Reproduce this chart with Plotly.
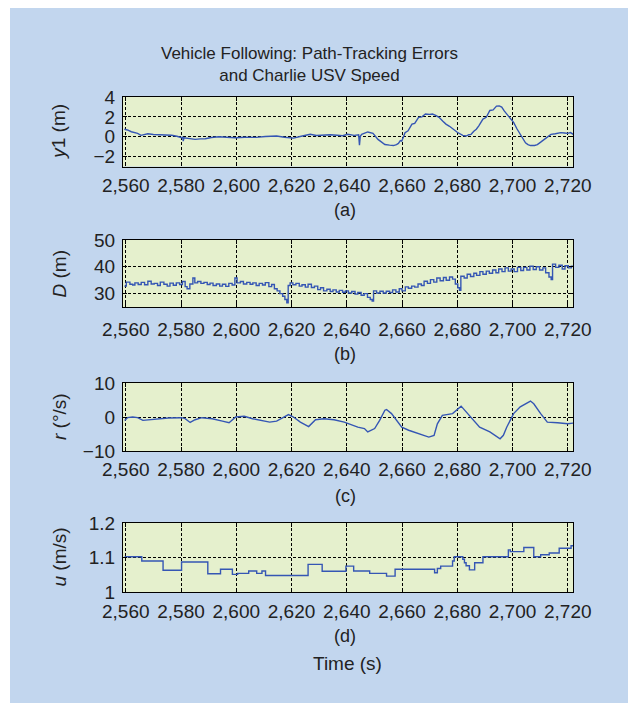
import plotly.graph_objects as go
from plotly.subplots import make_subplots

# ---------------- data ----------------
x_ticks = [2560, 2580, 2600, 2620, 2640, 2660, 2680, 2700, 2720]
x_tick_labels = ["2,560", "2,580", "2,600", "2,620", "2,640", "2,660", "2,680", "2,700", "2,720"]

# (a) cross-track error y1 (m)
t_y1 = [2559.5, 2560.6, 2562.0, 2563.2, 2564.3, 2565.5, 2566.8, 2568.0, 2570.0, 2572.9, 2575.0,
        2576.6, 2578.5, 2580.2, 2580.6, 2580.8, 2581.1, 2583.0, 2585.1, 2587.0, 2588.8, 2591.0,
        2593.7, 2596.5, 2599.8, 2603.0, 2607.2, 2610.5, 2614.6, 2617.5, 2620.7, 2623.5, 2626.8,
        2629.0, 2631.7, 2634.0, 2636.6, 2638.5, 2640.3, 2642.7, 2644.3, 2644.6, 2644.9, 2645.4,
        2647.6, 2649.5, 2651.3, 2652.5, 2653.8, 2655.5, 2656.9, 2658.0, 2658.7, 2659.4, 2659.9,
        2660.4, 2661.1, 2662.2, 2663.6, 2664.6, 2666.0, 2667.2, 2668.5, 2670.0, 2671.0, 2672.2,
        2673.4, 2674.8, 2675.9, 2677.2, 2678.3, 2680.0, 2682.0, 2683.2, 2684.2, 2685.0, 2686.0,
        2686.9, 2687.8, 2689.3, 2690.5, 2691.8, 2693.0, 2694.2, 2695.2, 2696.1, 2697.0, 2697.9,
        2699.0, 2700.4, 2701.6, 2702.8, 2703.8, 2704.7, 2705.6, 2706.5, 2708.0, 2709.0, 2710.2,
        2711.4, 2712.6, 2713.9, 2715.5, 2717.5, 2718.8, 2720.0, 2721.0, 2722.0]
y1 = [0.75, 0.68, 0.50, 0.42, 0.34, 0.14, 0.25, 0.30, 0.22, 0.20, 0.16,
      0.14, 0.05, -0.10, -0.05, -0.45, -0.10, -0.20, -0.27, -0.22, -0.20, -0.08,
      0.00, -0.05, -0.10, -0.05, -0.07, 0.02, 0.07, -0.05, -0.14, 0.05, 0.24,
      0.12, 0.14, 0.20, 0.14, 0.10, 0.24, 0.14, 0.20, -0.86, 0.05, 0.24,
      0.48, 0.34, -0.27, -0.55, -0.79, -0.85, -0.89, -0.80, -0.68, -0.40, -0.45,
      -0.10, 0.41, 0.60, 1.27, 1.35, 1.95, 2.00, 2.29, 2.25, 2.29, 2.15,
      1.95, 1.55, 1.27, 1.05, 0.82, 0.45, 0.14, 0.07, 0.20, 0.24, 0.55,
      0.75, 1.10, 1.78, 1.95, 2.64, 2.70, 3.08, 3.10, 2.98, 2.60, 2.29,
      1.90, 1.44, 0.80, 0.24, -0.25, -0.62, -0.80, -0.89, -0.88, -0.79, -0.55,
      -0.27, 0.00, 0.24, 0.30, 0.41, 0.38, 0.34, 0.42, 0.24]

# (b) distance D (m)
t_d = [2559.5, 2560.2, 2561.5, 2562.5, 2563.3, 2564.5, 2565.6, 2566.8, 2568.0, 2569.2, 2570.3,
       2571.5, 2572.5, 2573.8, 2575.0, 2576.0, 2577.2, 2578.3, 2579.5, 2580.5, 2581.5, 2582.2,
       2583.2, 2584.3, 2585.0, 2586.0, 2587.2, 2588.3, 2589.5, 2590.5, 2591.6, 2592.8, 2594.0,
       2595.0, 2596.2, 2597.3, 2598.5, 2599.5, 2600.3, 2601.5, 2602.6, 2603.8, 2605.0, 2606.0,
       2607.2, 2608.3, 2609.5, 2610.5, 2611.8, 2612.8, 2613.8, 2614.8, 2615.8, 2616.8, 2617.6,
       2618.3, 2618.8, 2619.5, 2620.5, 2621.6, 2622.8, 2623.8, 2625.0, 2626.0, 2627.2, 2628.3,
       2629.5, 2630.5, 2631.6, 2632.8, 2634.0, 2635.0, 2636.2, 2637.3, 2638.5, 2639.5, 2640.6,
       2641.8, 2643.0, 2644.0, 2645.2, 2646.3, 2647.5, 2648.5, 2649.2, 2649.7, 2650.8, 2652.0,
       2653.2, 2654.3, 2655.5, 2656.6, 2657.8, 2659.0, 2660.0, 2661.2, 2662.3, 2663.5, 2664.6,
       2665.8, 2667.0, 2668.0, 2669.2, 2670.3, 2671.5, 2672.6, 2673.8, 2675.0, 2676.0, 2677.2,
       2678.3, 2679.3, 2680.2, 2680.8, 2681.3, 2682.5, 2683.6, 2684.8, 2686.0, 2687.0, 2688.2,
       2689.3, 2690.5, 2691.6, 2692.8, 2694.0, 2695.0, 2696.2, 2697.3, 2698.5, 2699.5, 2700.6,
       2701.8, 2703.0, 2704.0, 2705.2, 2706.3, 2707.5, 2708.6, 2709.8, 2711.0, 2712.0, 2713.2,
       2714.0, 2714.5, 2715.6, 2716.8, 2718.0, 2719.0, 2720.2, 2721.3, 2722.0]
dist = [32.8, 34.3, 33.5, 33.2, 34.0, 33.4, 34.2, 33.3, 34.6, 33.6, 33.8,
        33.0, 34.3, 33.5, 32.8, 33.9, 33.1, 34.0, 33.4, 34.5, 32.6, 31.8,
        33.6, 35.8, 34.0, 34.5, 33.8, 34.2, 33.4, 33.9, 33.0, 33.6, 32.8,
        33.5, 32.7, 33.8, 33.2, 35.8, 34.0, 34.5, 33.6, 34.2, 33.5, 34.0,
        33.0, 33.8, 33.2, 34.1, 32.6, 33.4, 31.8, 31.0, 30.0, 29.0, 27.8,
        26.6, 33.0, 34.0, 33.3, 33.8, 32.8, 33.3, 32.4, 33.5, 32.3, 32.8,
        31.5, 32.2, 31.0, 31.6, 30.8, 31.4, 30.6, 31.2, 30.5, 31.0, 30.2,
        30.8, 29.8, 30.4, 29.4, 30.0, 28.6, 27.8, 27.2, 31.0, 30.2, 30.9,
        30.2, 30.9, 30.4, 31.4, 30.6, 31.8, 31.0, 32.5, 32.0, 32.8, 32.4,
        33.6, 33.0, 34.6, 33.8, 35.2, 34.3, 35.8, 34.8, 36.0, 35.0, 36.2,
        35.4, 33.6, 32.2, 31.2, 36.5, 35.8, 37.2, 36.4, 37.6, 36.8, 38.2,
        37.2, 38.4, 37.6, 38.8, 37.8, 39.2, 38.2, 39.6, 38.4, 39.2, 38.2,
        39.8, 38.6, 39.8, 38.8, 40.2, 39.0, 40.0, 38.8, 39.6, 37.8, 36.2,
        35.2, 41.0, 39.8, 40.6, 39.2, 40.4, 39.6, 40.2, 39.8]

# (c) yaw rate r (deg/s)
t_r = [2559.6, 2560.6, 2562.5, 2564.3, 2566.2, 2570.5, 2575.4, 2580.2, 2581.5, 2583.3, 2585.1,
       2587.6, 2591.3, 2595.0, 2597.4, 2599.8, 2602.9, 2605.9, 2609.6, 2612.1, 2614.6, 2617.0,
       2618.9, 2620.7, 2623.2, 2626.2, 2628.7, 2631.7, 2635.4, 2639.1, 2641.5, 2644.0, 2646.4,
       2647.6, 2650.1, 2651.9, 2653.8, 2654.4, 2656.2, 2658.7, 2659.9, 2662.4, 2666.0, 2669.7,
       2671.6, 2672.8, 2674.6, 2678.3, 2681.4, 2683.2, 2685.7, 2688.1, 2691.8, 2695.5, 2696.7,
       2697.9, 2700.4, 2702.8, 2706.5, 2707.7, 2710.2, 2712.6, 2716.3, 2720.0, 2722.0]
r = [-1.0, -0.2, 0.0, -0.2, -1.0, -0.7, -0.3, -0.2, -0.5, -1.6, -0.8,
     -0.2, -0.5, -1.2, -1.7, 0.0, 0.2, -0.5, -1.2, -1.5, -1.2, 0.0,
     0.7, 0.0, -1.5, -2.8, -0.8, -0.5, -0.8, -1.5, -2.2, -3.0, -3.4,
     -4.4, -3.4, -1.0, 2.0, 2.2, 1.0, -1.5, -3.0, -3.9, -4.9, -5.9,
     -5.4, -2.0, 0.5, 1.0, 3.2, 1.5, -1.0, -3.0, -4.4, -6.4, -5.4,
     -3.0, 1.0, 3.0, 4.7, 3.9, 1.0, -1.5, -1.7, -2.0, -1.8]

# (d) speed u (m/s)
t_u = [2559.6, 2565.8, 2573.5, 2580.2, 2589.7, 2594.3, 2598.6, 2600.5, 2604.5, 2607.4, 2609.3,
       2610.6, 2626.0, 2631.1, 2639.7, 2642.5, 2648.3, 2654.4, 2657.5, 2671.8, 2672.8, 2674.0,
       2678.3, 2678.9, 2682.0, 2682.6, 2683.2, 2684.4, 2686.3, 2689.3, 2698.5, 2699.2, 2704.1,
       2707.7, 2710.2, 2713.3, 2716.9, 2721.2, 2722.0]
u = [1.102, 1.090, 1.063, 1.087, 1.053, 1.066, 1.051, 1.054, 1.061, 1.054, 1.061,
     1.048, 1.080, 1.060, 1.075, 1.061, 1.054, 1.046, 1.066, 1.056, 1.068, 1.075,
     1.090, 1.102, 1.095, 1.085, 1.076, 1.064, 1.085, 1.102, 1.122, 1.117, 1.129,
     1.102, 1.108, 1.113, 1.127, 1.134, 1.134]

y_ranges = [[-3, 4], [25, 50], [-10, 10], [1.0, 1.2]]
y_ticks = [[-2, 0, 2, 4], [30, 40, 50], [-10, 0, 10], [1.0, 1.1, 1.2]]
y_tick_labels = [["\u22122", "0", "2", "4"], ["30", "40", "50"], ["\u221210", "0", "10"], ["1", "1.1", "1.2"]]
y_titles = ["<i>y</i>1 (m)", "<i>D</i> (m)", "<i>r</i> (\u00b0/s)", "<i>u</i> (m/s)"]
panel_labels = ["(a)", "(b)", "(c)", "(d)"]

# ---------------- figure ----------------
W, H = 628, 703
L, R, T, B = 123, 55, 97, 111
PW, PH = W - L - R, H - T - B

def py(px):  # pixel y (from top) -> paper fraction
    return (H - B - px) / PH

def pxx(px):
    return (px - L) / PW

domains = [(166.5, 97), (307, 240), (451, 383), (592, 523)]

fig = make_subplots(rows=4, cols=1)
line_col = "#3556B4"
series = [(t_y1, y1, "linear"), (t_d, dist, "hv"), (t_r, r, "linear"), (t_u, u, "hv")]
for i, (tx, ty, shp) in enumerate(series):
    fig.add_trace(go.Scatter(x=tx, y=ty, mode="lines", line=dict(color=line_col, width=1.4, shape=shp),
                             showlegend=False, hoverinfo="skip"), row=i + 1, col=1)

font = "Liberation Sans, Arial, sans-serif"
tick_standoffs = [2, 5, 1, 2]
for i in range(4):
    bot, top = domains[i]
    xa = "xaxis" if i == 0 else f"xaxis{i+1}"
    ya = "yaxis" if i == 0 else f"yaxis{i+1}"
    fig.layout[xa].update(
        domain=[0, 1], range=[2559.0, 2721.9], tickvals=x_ticks, ticktext=x_tick_labels,
        showline=True, linecolor="black", linewidth=1.2, mirror="ticks",
        ticks="inside", ticklen=4, tickcolor="black",
        showgrid=True, gridcolor="black", gridwidth=1, griddash="3px,2px",
        zeroline=False, tickfont=dict(family=font, size=19, color="#222"),
        ticklabelstandoff=tick_standoffs[i])
    fig.layout[ya].update(
        domain=[py(bot), py(top)], range=y_ranges[i], tickvals=y_ticks[i], ticktext=y_tick_labels[i],
        showline=True, linecolor="black", linewidth=1.2, mirror="ticks",
        ticks="inside", ticklen=4, tickcolor="black",
        showgrid=True, gridcolor="black", gridwidth=1, griddash="3px,2px",
        zeroline=False, tickfont=dict(family=font, size=19, color="#222"),
        ticklabelstandoff=3)

annotations = []
label_y = [210, 354, 496, 636]
for i in range(4):
    bot, top = domains[i]
    annotations.append(dict(text=y_titles[i], xref="paper", yref="paper", x=pxx(59), y=py((bot + top) / 2),
                            textangle=-90, showarrow=False, xanchor="center", yanchor="middle",
                            font=dict(family=font, size=19, color="#222")))
    annotations.append(dict(text=panel_labels[i], xref="paper", yref="paper", x=pxx(345), y=py(label_y[i]),
                            showarrow=False, xanchor="center", yanchor="middle",
                            font=dict(family=font, size=18, color="#222")))
annotations.append(dict(text="Time (s)", xref="paper", yref="paper", x=pxx(347), y=py(663),
                        showarrow=False, xanchor="center", yanchor="middle",
                        font=dict(family=font, size=19, color="#222")))
annotations.append(dict(text="Vehicle Following: Path-Tracking Errors<br>and Charlie USV Speed",
                        xref="paper", yref="paper", x=pxx(309), y=py(64),
                        showarrow=False, xanchor="center", yanchor="middle",
                        font=dict(family=font, size=17, color="#222")))

shapes = [
    dict(type="rect", xref="paper", yref="paper", x0=-2, x1=pxx(10), y0=-2, y1=3,
         fillcolor="white", line=dict(width=0), layer="below"),
    dict(type="rect", xref="paper", yref="paper", x0=-2, x1=3, y0=py(8), y1=3,
         fillcolor="white", line=dict(width=0), layer="below"),
]

fig.update_layout(
    width=W, height=H, margin=dict(l=L, r=R, t=T, b=B),
    paper_bgcolor="#C2D6EE", plot_bgcolor="#E5F0CD",
    annotations=annotations, shapes=shapes, showlegend=False,
    font=dict(family=font, color="#222"),
)

fig.write_html("out.html")
